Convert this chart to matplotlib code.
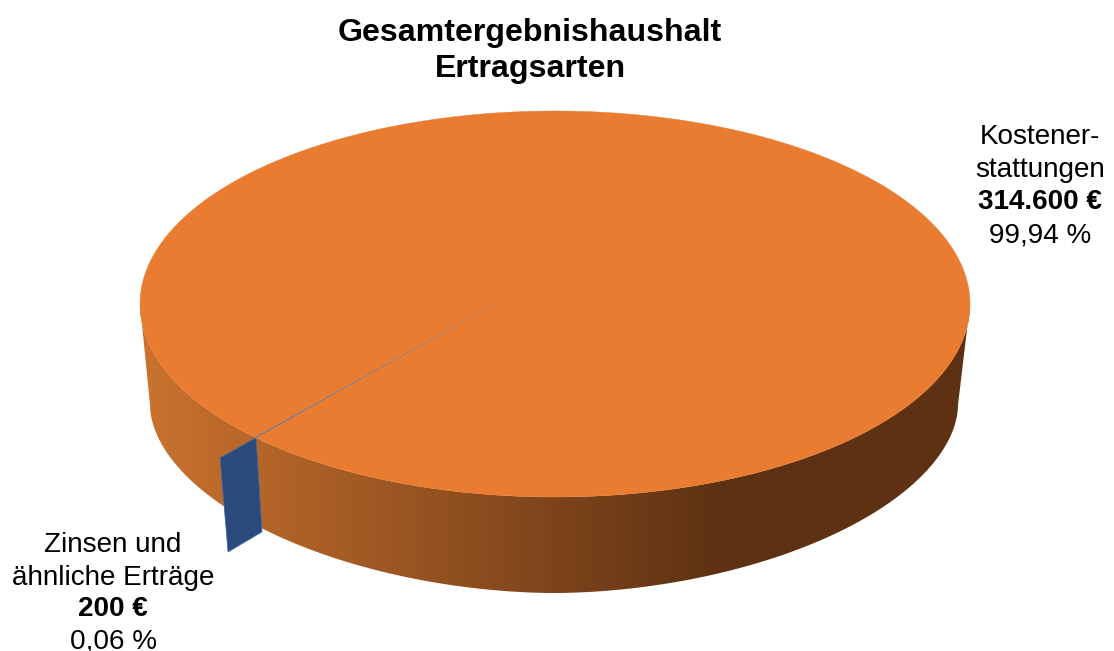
import numpy as np
import matplotlib
matplotlib.use("Agg")
import matplotlib.pyplot as plt
from matplotlib.colors import LinearSegmentedColormap
from matplotlib.patches import Polygon

plt.rcParams['font.family'] = ['Liberation Sans', 'DejaVu Sans']

title_lines = ["Gesamtergebnishaushalt", "Ertragsarten"]
category_lines = [["Kostener-", "stattungen"], ["Zinsen und", "ähnliche Erträge"]]
values = [314600, 200]
value_labels = ["314.600 €", "200 €"]
percent_labels = ["99,94 %", "0,06 %"]
colors = ["#EA7C31", "#2B4A7C"]

START_ANGLE = 136.1          # screen angle of the small slice, clockwise from +x
CX, CY, RX, RY = 555, 304, 415, 193
LX, LY, LRX, LRY, LN = 554, 405, 404, 188, 1.87
APEX = np.array([543, 277])

fig = plt.figure(figsize=(11.14, 6.51), dpi=100)
ax = fig.add_axes([0, 0, 1, 1])
ax.set_xlim(0, 1114)
ax.set_ylim(651, 0)
ax.axis("off")


def top_pt(deg):
    t = np.radians(deg)
    return np.column_stack([CX + RX * np.cos(t), CY + RY * np.sin(t)])


def low_pt(deg):
    t = np.radians(deg)
    c, s = np.cos(t), np.sin(t)
    return np.column_stack([
        LX + LRX * np.sign(c) * np.abs(c) ** (2 / LN),
        LY + LRY * np.sign(s) * np.abs(s) ** (2 / LN),
    ])


sweep = np.array(values) / sum(values) * 360

# outer wall with its left-to-right shading
front = np.linspace(0, 180, 361)
wall = Polygon(np.vstack([top_pt(front), low_pt(front[::-1])]), closed=True,
               fc="none", ec="none", transform=ax.transData)
ax.add_patch(wall)
shade = LinearSegmentedColormap.from_list(
    "wall", [(0, "#CB732E"), (0.70, "#5E3113"), (1, "#5E3113")])
img = ax.imshow(np.linspace(0, 1, 512)[None, :], cmap=shade, vmin=0, vmax=1,
                extent=(140, 970, 651, 0), aspect="auto", zorder=1)
img.set_clip_path(wall)
ax.set_xlim(0, 1114)
ax.set_ylim(651, 0)

# cut face of the small slice, standing out from the rim
edge = top_pt(np.array([START_ANGLE]))[0]
radial = (edge - APEX) * 0.125
ax.add_patch(Polygon([edge, edge + radial, edge + radial + np.array([8, 94]),
                      edge + np.array([6, 94])],
                     closed=True, fc=colors[1], ec="#3F66A8", lw=0.6, zorder=2))

# top face
big = np.linspace(START_ANGLE + sweep[1], START_ANGLE + sweep[1] + sweep[0], 720)
ax.add_patch(Polygon(np.vstack([APEX, top_pt(big)]), closed=True,
                     fc=colors[0], ec=colors[0], lw=0.3, zorder=3))
small = np.linspace(START_ANGLE, START_ANGLE + sweep[1], 4)
ax.add_patch(Polygon(np.vstack([APEX, top_pt(small)]), closed=True,
                     fc="#4A6A9C", ec="none", lw=0, zorder=4))

# texts
TS = 23.1
ax.text(530, 32.5, title_lines[0], ha="center", va="center", fontsize=TS, fontweight="bold")
ax.text(530, 69, title_lines[1], ha="center", va="center", fontsize=TS, fontweight="bold")

FS = 20.1
for y, s in zip((137, 170), category_lines[0]):
    ax.text(1040, y, s, ha="center", va="center", fontsize=FS)
ax.text(1040, 202, value_labels[0], ha="center", va="center", fontsize=FS, fontweight="bold")
ax.text(1040, 235, percent_labels[0], ha="center", va="center", fontsize=FS)
for y, s in zip((545, 578), category_lines[1]):
    ax.text(113, y, s, ha="center", va="center", fontsize=FS)
ax.text(113, 609, value_labels[1], ha="center", va="center", fontsize=FS, fontweight="bold")
ax.text(113, 642, percent_labels[1], ha="center", va="center", fontsize=FS)

fig.savefig("out.png", dpi=100)
